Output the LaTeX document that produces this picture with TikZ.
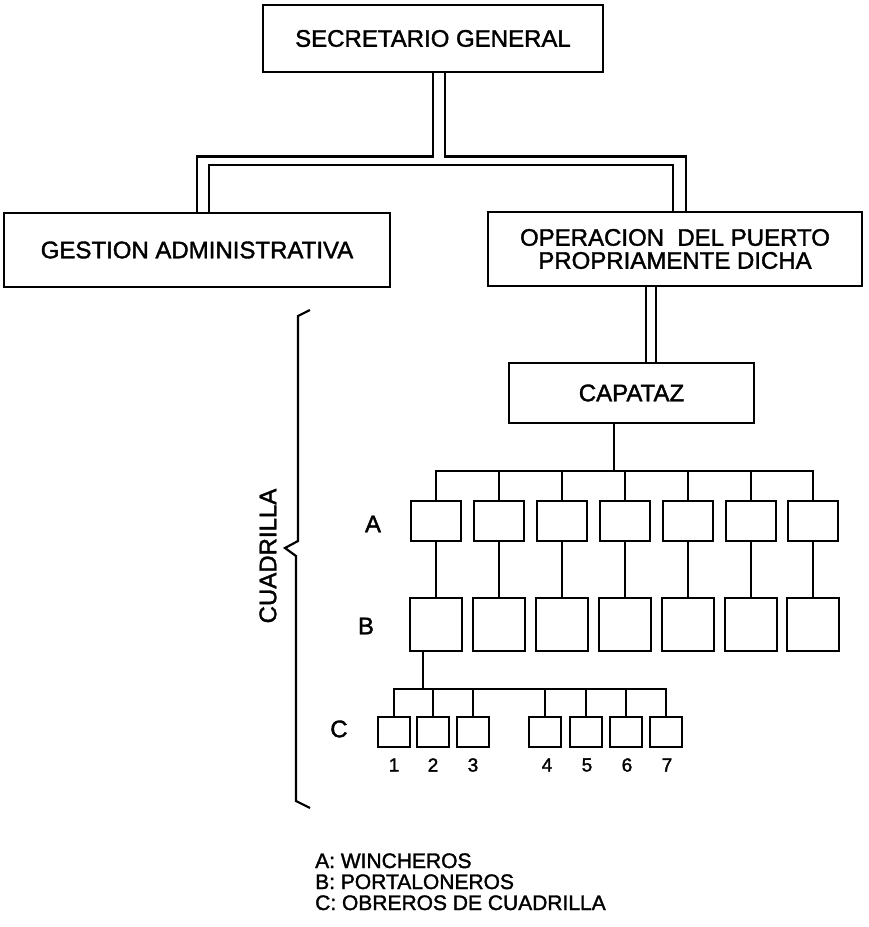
\documentclass[tikz,border=0pt]{standalone}
\usepackage{fontspec}
\setmainfont{Liberation Sans}[FakeBold=1.6]
\begin{document}
\begin{tikzpicture}[x=1pt,y=-1pt]
\tikzstyle{every node}+=[inner sep=0pt]
\tikzstyle{box}=[draw=black, line width=2.8pt, rectangle, font=\fontsize{24}{23}\selectfont]
\tikzstyle{abox}=[box, minimum width=50, minimum height=40]
\tikzstyle{bbox}=[box, minimum width=52, minimum height=53]
\tikzstyle{cbox}=[box, minimum width=32, minimum height=30]
\tikzstyle{line}=[black, line width=2.2pt]
\tikzstyle{big}=[font=\fontsize{24}{24}\selectfont]
\tikzstyle{num}=[font=\fontsize{19}{19}\selectfont]
\tikzstyle{leg}=[anchor=base west, font=\fontsize{21}{21}\selectfont]
\useasboundingbox (0,0) rectangle (869,927);
% cajas principales
\node [box, minimum width=340, minimum height=67] (sec) at (433,38.5) {SECRETARIO GENERAL};
\node [box, minimum width=386, minimum height=74] (gen) at (197,250) {GESTION ADMINISTRATIVA};
\node [box, minimum width=374, minimum height=74, align=center] (op) at (675,249) {OPERACION\ \ DEL PUERTO\\PROPRIAMENTE DICHA};
\node [box, minimum width=245, minimum height=60] (cap) at (631.5,393) {CAPATAZ};
% lineas dobles
\draw [line] (sec.south) -- ++(0,83) -| (gen.north);
\draw [line] ([xshift=12]sec.south) -- ++(0,83) -| ([xshift=11]op.north);
\draw [line] ([xshift=12]gen.north) -- ++(0,-47) -| ([xshift=-2]op.north);
\draw [line] ([xshift=-29]op.south) -- ++(0,77);
\draw [line] ([xshift=-19]op.south) -- ++(0,77);
% cuadrilla A
\node [abox] (a1) at (436,521) {};
\node [abox] (a2) at (499,521) {};
\node [abox] (a3) at (562,521) {};
\node [abox] (a4) at (625,521) {};
\node [abox] (a5) at (688,521) {};
\node [abox] (a6) at (751,521) {};
\node [abox] (a7) at (813,521) {};
% cuadrilla B
\node [bbox] (b1) at (436,624.5) {};
\node [bbox] (b2) at (499,624.5) {};
\node [bbox] (b3) at (562,624.5) {};
\node [bbox] (b4) at (625,624.5) {};
\node [bbox] (b5) at (688,624.5) {};
\node [bbox] (b6) at (751,624.5) {};
\node [bbox] (b7) at (813,624.5) {};
% cuadrilla C
\node [cbox] (c1) at (394,732) {};
\node [cbox] (c2) at (433,732) {};
\node [cbox] (c3) at (473,732) {};
\node [cbox] (c4) at (545,732) {};
\node [cbox] (c5) at (586,732) {};
\node [cbox] (c6) at (626,732) {};
\node [cbox] (c7) at (666,732) {};
\node [num] (n1) at (394,765) {1};
\node [num] (n2) at (433,765) {2};
\node [num] (n3) at (473,765) {3};
\node [num] (n4) at (547,765) {4};
\node [num] (n5) at (587,765) {5};
\node [num] (n6) at (627,765) {6};
\node [num] (n7) at (667,765) {7};
% capataz -> A
\coordinate (bar) at (614,471);
\draw [line] (bar) -- (bar |- cap.south);
\draw [line] (a1.north) -- (a1.north |- bar) -- (a7.north |- bar) -- (a7.north);
\draw [line] (a2.north) -- (a2.north |- bar);
\draw [line] (a3.north) -- (a3.north |- bar);
\draw [line] (a4.north) -- (a4.north |- bar);
\draw [line] (a5.north) -- (a5.north |- bar);
\draw [line] (a6.north) -- (a6.north |- bar);
% A -> B
\draw [line] (a1) -- (b1);
\draw [line] (a2) -- (b2);
\draw [line] (a3) -- (b3);
\draw [line] (a4) -- (b4);
\draw [line] (a5) -- (b5);
\draw [line] (a6) -- (b6);
\draw [line] (a7) -- (b7);
% B -> C
\coordinate (cbar) at (423,689);
\draw [line] (cbar) -- (cbar |- b1.south);
\draw [line] (c1.north) -- (c1.north |- cbar) -- (c7.north |- cbar) -- (c7.north);
\draw [line] (c2.north) -- (c2.north |- cbar);
\draw [line] (c3.north) -- (c3.north |- cbar);
\draw [line] (c4.north) -- (c4.north |- cbar);
\draw [line] (c5.north) -- (c5.north |- cbar);
\draw [line] (c6.north) -- (c6.north |- cbar);
% etiquetas
\node [big] (la) at (373,524) {A};
\node [big] (lb) at (366,626) {B};
\node [big] (lc) at (339,729) {C};
\draw [line] (310,310) -- (298,316) -- (298,541) -- (285,548) -- (296,556) -- (296,801) -- (310,808);
\node [big, rotate=90] (cuad) at (268,556) {CUADRILLA};
% leyenda
\node [leg] (leg1) at (315,868) {A: WINCHEROS};
\node [leg] (leg2) at (315,889) {B: PORTALONEROS};
\node [leg] (leg3) at (315,910) {C: OBREROS DE CUADRILLA};
\end{tikzpicture}
\end{document}
